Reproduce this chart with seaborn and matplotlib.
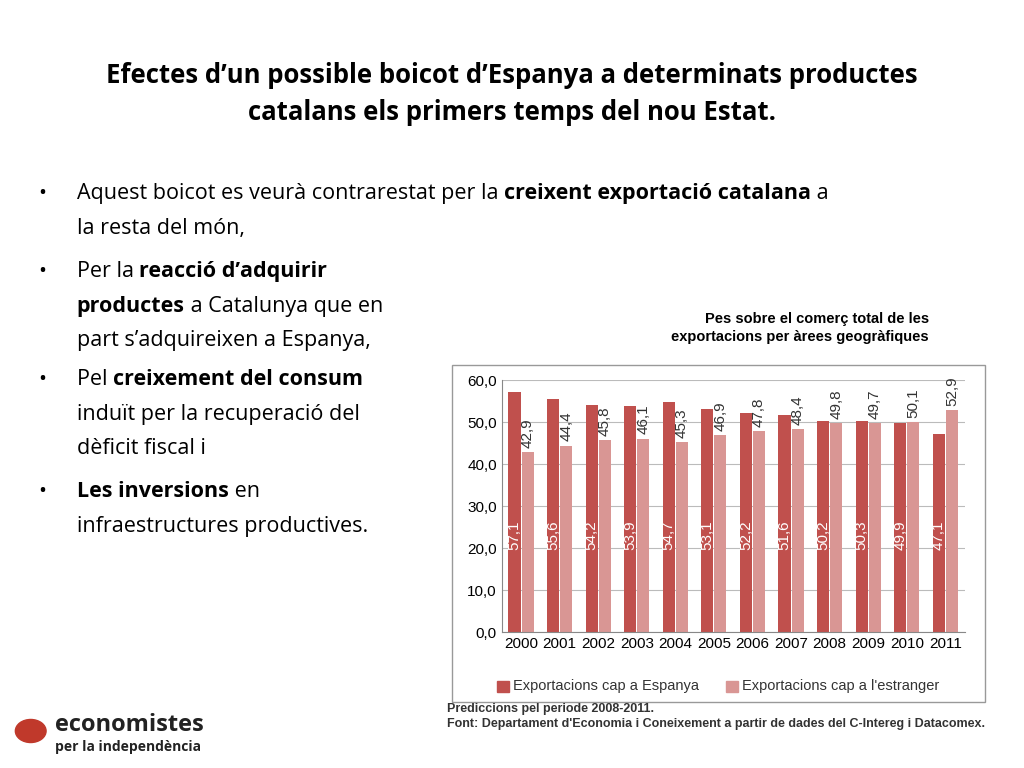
import matplotlib
matplotlib.use("Agg")
import matplotlib.pyplot as plt
import seaborn as sns
import pandas as pd
from matplotlib.patches import Rectangle, Circle

years = ["2000", "2001", "2002", "2003", "2004", "2005", "2006", "2007", "2008", "2009", "2010", "2011"]
espanya = [57.1, 55.6, 54.2, 53.9, 54.7, 53.1, 52.2, 51.6, 50.2, 50.3, 49.9, 47.1]
estranger = [42.9, 44.4, 45.8, 46.1, 45.3, 46.9, 47.8, 48.4, 49.8, 49.7, 50.1, 52.9]
series = ["Exportacions cap a Espanya", "Exportacions cap a l'estranger"]
yticks = [0, 10, 20, 30, 40, 50, 60]

df = pd.DataFrame({
    "any": years * 2,
    "valor": espanya + estranger,
    "serie": [series[0]] * len(years) + [series[1]] * len(years),
})

FONT = "Open Sans"
fig = plt.figure(figsize=(10.24, 7.68), dpi=100)
fig.patch.set_facecolor("white")

# ── Slide text ────────────────────────────────────────────────────────────────
fig.text(0.5, 1 - 94 / 768, "Efectes d’un possible boicot d’Espanya a determinats productes\n"
         "catalans els primers temps del nou Estat.", ha="center", va="center",
         fontsize=18.5, fontweight="bold", family=FONT, linespacing=1.45)

renderer = fig.canvas.get_renderer()


def bullet(y, lines, x=0.075, size=15.5):
    fig.text(0.037, y, "•", fontsize=size, family=FONT, va="top")
    for i, line in enumerate(lines):
        xx = x
        for txt, bold in line:
            t = fig.text(xx, y - i * 0.045, txt, fontsize=size, family=FONT,
                         fontweight="bold" if bold else "normal", va="top")
            xx += t.get_window_extent(renderer=renderer).width / fig.bbox.width


bullet(1 - 183 / 768, [[("Aquest boicot es veurà contrarestat per la ", False),
                        ("creixent exportació catalana", True), (" a", False)],
                       [("la resta del món,", False)]])
bullet(1 - 261 / 768, [[("Per la ", False), ("reacció d’adquirir", True)],
                       [("productes", True), (" a Catalunya que en", False)],
                       [("part s’adquireixen a Espanya,", False)]])
bullet(1 - 369 / 768, [[("Pel ", False), ("creixement del consum", True)],
                       [("induït per la recuperació del", False)],
                       [("dèficit fiscal i", False)]])
bullet(1 - 481 / 768, [[("Les inversions", True), (" en", False)],
                       [("infraestructures productives.", False)]])

fig.text(0.907, 1 - 328 / 768, "Pes sobre el comerç total de les\nexportacions per àrees geogràfiques",
         ha="right", va="center", fontsize=10.5, fontweight="bold",
         family="Liberation Sans", linespacing=1.3)

# chart frame
fig.patches.append(Rectangle((452 / 1024, 1 - 702 / 768), 533 / 1024, 337 / 768,
                             transform=fig.transFigure, fill=False, ec="#999999", lw=1))

# ── Chart ─────────────────────────────────────────────────────────────────────
ax = fig.add_axes([0.49, 0.177, 0.452, 0.328])
colors = ["#C0504D", "#D99694"]
sns.barplot(data=df, x="any", y="valor", hue="serie", palette=colors,
            width=0.68, gap=0.08, ax=ax, legend=False, saturation=1)
ax.set_ylim(0, 60)
ax.set_yticks(yticks)
ax.set_yticklabels([f"{v:.1f}".replace(".", ",") for v in yticks],
                   family="Liberation Sans", fontsize=11)
ax.tick_params(axis="x", labelsize=11, length=0)
ax.tick_params(axis="y", length=0)
for lab in ax.get_xticklabels():
    lab.set_family("Liberation Sans")
ax.grid(axis="y", color="#BBBBBB", lw=0.8)
ax.set_axisbelow(True)
ax.set_xlabel("")
ax.set_ylabel("")
for s in ["top", "right"]:
    ax.spines[s].set_visible(False)
ax.spines["left"].set_color("#888888")
ax.spines["bottom"].set_color("#888888")

for cont, vals, inside in zip(ax.containers, [espanya, estranger], [True, False]):
    for bar, v in zip(cont, vals):
        cx = bar.get_x() + bar.get_width() / 2
        lbl = f"{v:.1f}".replace(".", ",")
        if inside:
            ax.text(cx, 23, lbl, rotation=90, ha="center", va="center",
                    color="white", fontsize=11, family="Liberation Sans")
        else:
            ax.text(cx, v + 1, lbl, rotation=90, ha="center", va="bottom",
                    color="#333333", fontsize=11, family="Liberation Sans")

# legend
for i, (name, c) in enumerate(zip(series, colors)):
    x0 = 497 / 1024 + i * 229 / 1024
    fig.patches.append(Rectangle((x0, 1 - 692 / 768), 0.012, 0.014,
                                 transform=fig.transFigure, color=c))
    fig.text(x0 + 0.016, 1 - 686 / 768, name, va="center", fontsize=10.5,
             family="Liberation Sans", color="#333333")

fig.text(0.437, 1 - 709 / 768, "Prediccions pel periode 2008-2011.",
         fontsize=9, fontweight="bold", family="Liberation Sans", va="center", color="#333333")
fig.text(0.437, 1 - 724 / 768,
         "Font: Departament d'Economia i Coneixement a partir de dades del C-Intereg i Datacomex.",
         fontsize=9, fontweight="bold", family="Liberation Sans", va="center", color="#333333")

# logo
fig.patches.append(Circle((0.03, 1 - 731 / 768), 0.015, transform=fig.transFigure,
                          color="#C0392B"))
fig.text(0.054, 1 - 725 / 768, "economistes", fontsize=17, fontweight="bold",
         family=FONT, va="center", color="#222222")
fig.text(0.054, 1 - 747 / 768, "per la independència", fontsize=10, fontweight="bold",
         family=FONT, va="center", color="#222222")

fig.savefig("out.png", dpi=100, facecolor="white")
